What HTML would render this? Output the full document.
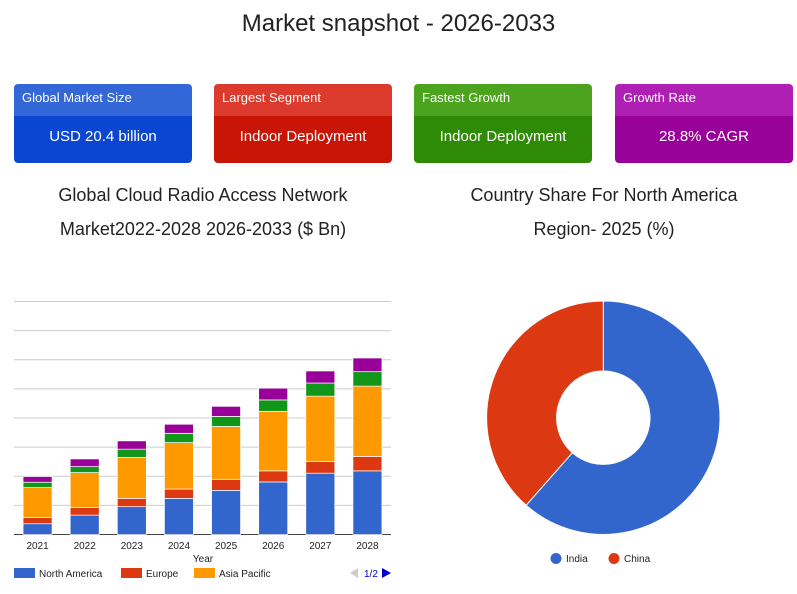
<!DOCTYPE html>
<html><head><meta charset="utf-8">
<style>
body{margin:0;width:797px;height:594px;background:#fff;font-family:"Liberation Sans",sans-serif;position:relative;overflow:hidden}
.t{position:absolute;color:#222;text-align:center}
.card{position:absolute;top:84px;width:178px;height:79px;border-radius:4px;overflow:hidden;color:#fff}
.card .h{height:32px;line-height:28px;font-size:13px;padding-left:8px}
.card .v{height:47px;line-height:41px;font-size:15px;text-align:center}
</style></head><body>
<div class="t" style="left:0;width:797px;top:10px;font-size:24px">Market snapshot - 2026-2033</div>

<div class="card" style="left:14px"><div class="h" style="background:#3366d6">Global Market Size</div><div class="v" style="background:#0a46d0">USD 20.4 billion</div></div>
<div class="card" style="left:214px"><div class="h" style="background:#dc3a2c">Largest Segment</div><div class="v" style="background:#c81506">Indoor Deployment</div></div>
<div class="card" style="left:414px"><div class="h" style="background:#4ba31e">Fastest Growth</div><div class="v" style="background:#2f8a06">Indoor Deployment</div></div>
<div class="card" style="left:615px"><div class="h" style="background:#b01fb4">Growth Rate</div><div class="v" style="background:#990099">28.8% CAGR</div></div>

<div class="t" style="left:0;width:406px;top:178px;font-size:18px;line-height:34px">Global Cloud Radio Access Network<br>Market2022-2028 2026-2033 ($ Bn)</div>
<div class="t" style="left:404px;width:400px;top:178px;font-size:18px;line-height:34px">Country Share For North America<br>Region- 2025 (%)</div>

<svg id="bar" style="position:absolute;left:0;top:0" width="400" height="594"></svg>
<svg id="pie" style="position:absolute;left:400px;top:0" width="397" height="594"></svg>

<script>
const years=["2021","2022","2023","2024","2025","2026","2027","2028"];
const northAmerica=[0.74,1.33,1.91,2.48,3.03,3.61,4.21,4.37];
const europe=[0.43,0.53,0.57,0.64,0.76,0.76,0.81,0.99];
const asiaPacific=[2.05,2.39,2.81,3.19,3.63,4.09,4.48,4.83];
const seriesFour=[0.37,0.41,0.57,0.64,0.69,0.78,0.90,0.99];
const seriesFive=[0.39,0.53,0.57,0.62,0.69,0.81,0.83,0.94];
const yTicks=[0,2,4,6,8,10,12,14,16];
const countries=["India","China"];
const shares=[61.5,38.5];

const NS="http://www.w3.org/2000/svg";
function mk(p,t,a){const e=document.createElementNS(NS,t);for(const k in a)e.setAttribute(k,a[k]);p.appendChild(e);return e;}
const bar=document.getElementById('bar');
const X0=14,X1=391,Y0=534.5,Y1=301.5,YMAX=16;
const y=v=>Y0-(v/YMAX)*(Y0-Y1);
const band=(X1-X0)/years.length;
const xc=i=>X0+band*(i+0.5);
yTicks.forEach(t=>{const l=mk(bar,'line',{x1:X0,x2:X1,y1:y(t),y2:y(t),stroke:t===0?'#444':'#ccc','stroke-width':1});

});
const series=[[northAmerica,'#3366cc'],[europe,'#dc3912'],[asiaPacific,'#ff9900'],[seriesFour,'#109618'],[seriesFive,'#990099']];
years.forEach((yr,i)=>{
  let acc=0;
  series.forEach(([arr,c],s)=>{
    const r=mk(bar,'rect',{x:xc(i)-14.5,width:29,y:y(acc+arr[i]),height:y(acc)-y(acc+arr[i]),fill:c,stroke:'#fff','stroke-width':0.7});
    
    
    acc+=arr[i];
  });
  const tx=mk(bar,'text',{x:xc(i),y:549,'text-anchor':'middle','font-size':10,fill:'#222'});tx.textContent=yr;
  
  
});
const xt=mk(bar,'text',{x:203,y:562,'text-anchor':'middle','font-size':10,fill:'#222'});xt.textContent='Year';


[['North America','#3366cc',14],['Europe','#dc3912',121],['Asia Pacific','#ff9900',194]].forEach(([n,c,x])=>{
  const g=mk(bar,'g',{});
  
  
  mk(g,'rect',{x:x,y:568,width:21,height:10,fill:c});
  const t=mk(g,'text',{x:x+25,y:577,'font-size':10,fill:'#222'});t.textContent=n;
});
const pg=mk(bar,'g',{});


mk(pg,'polygon',{points:'350,573 358,568 358,578',fill:'#ccc'});
const pt=mk(pg,'text',{x:364,y:577,'font-size':10,fill:'#0000cc'});pt.textContent='1/2';
mk(pg,'polygon',{points:'382,568 391,573 382,578',fill:'#0000cc'});

const pie=document.getElementById('pie');
const cx=203.3,cy=417.7,R=116.7,r0=46.7;
const total=shares.reduce((a,b)=>a+b,0);
const pc=['#3366cc','#dc3912'];
let a0=0;
shares.forEach((v,i)=>{
  const a1=a0+v/total*2*Math.PI;
  const p=(a,rr)=>[cx+rr*Math.sin(a),cy-rr*Math.cos(a)];
  const large=(a1-a0)>Math.PI?1:0;
  const [x1,y1]=p(a0,R),[x2,y2]=p(a1,R),[x3,y3]=p(a1,r0),[x4,y4]=p(a0,r0);
  const s=mk(pie,'path',{d:`M${x1},${y1}A${R},${R} 0 ${large} 1 ${x2},${y2}L${x3},${y3}A${r0},${r0} 0 ${large} 0 ${x4},${y4}Z`,fill:pc[i],stroke:'#fff','stroke-width':1});
  
  
  a0=a1;
});
[[0,156],[1,214]].forEach(([i,x])=>{
  const g=mk(pie,'g',{});
  
  
  mk(g,'circle',{cx:x,cy:558.5,r:5.5,fill:pc[i]});
  const t=mk(g,'text',{x:x+10,y:562,'font-size':10,fill:'#222'});t.textContent=countries[i];
});
</script>
</body></html>
